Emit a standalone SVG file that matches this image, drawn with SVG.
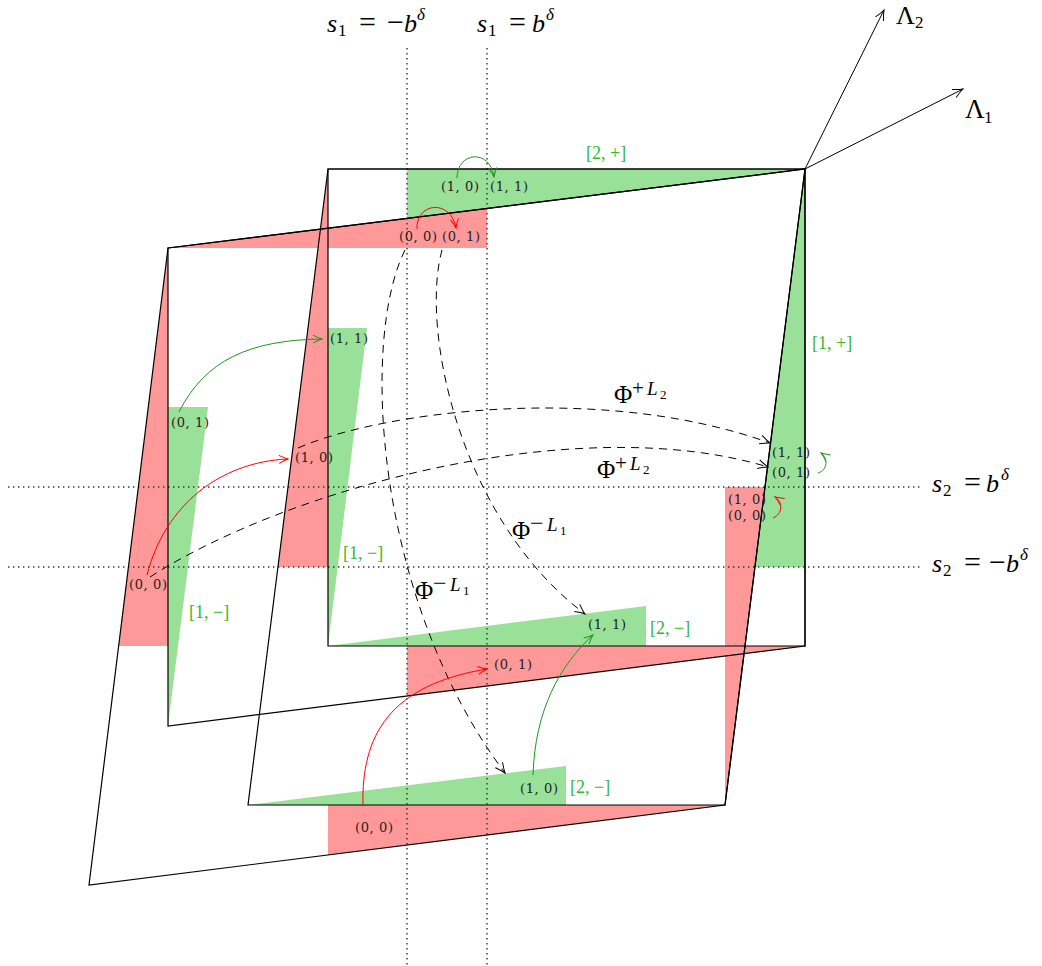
<svg xmlns="http://www.w3.org/2000/svg" width="1042" height="966" viewBox="0 0 1042 966">
<style>
.red{fill:#ff9999;stroke:none}
.grn{fill:#99e099;stroke:none}
.dot{stroke:#333;stroke-width:1.4;stroke-dasharray:1.4 3.6;fill:none}
.out{fill:none;stroke:#000;stroke-width:1.2;stroke-linejoin:miter}
.dash{fill:none;stroke:#000;stroke-width:1;stroke-dasharray:8 6}
.m{font-family:"Liberation Serif","Times New Roman",serif;font-size:26px;fill:#000}
.i{font-style:italic}
.sm{font-family:"DejaVu Serif","Liberation Serif",serif;font-size:13px;letter-spacing:0.6px;fill:#222}
.gl{font-family:"Liberation Serif","Times New Roman",serif;font-size:18px;fill:#33b833}
</style>
<defs>
<marker id="ak" markerUnits="userSpaceOnUse" markerWidth="16" markerHeight="16" viewBox="-12 -8 16 16" refX="0" refY="0" orient="auto" overflow="visible"><path d="M-10,-4.5 Q-4,-1.2 0,0 Q-4,1.2 -10,4.5" fill="none" stroke="#000" stroke-width="1"/></marker>
<marker id="ag" markerUnits="userSpaceOnUse" markerWidth="16" markerHeight="16" viewBox="-12 -8 16 16" refX="0" refY="0" orient="auto" overflow="visible"><path d="M-9,-4 Q-3.5,-1 0,0 Q-3.5,1 -9,4" fill="none" stroke="#1e961e" stroke-width="1"/></marker>
<marker id="ar" markerUnits="userSpaceOnUse" markerWidth="16" markerHeight="16" viewBox="-12 -8 16 16" refX="0" refY="0" orient="auto" overflow="visible"><path d="M-9,-4 Q-3.5,-1 0,0 Q-3.5,1 -9,4" fill="none" stroke="#ff0000" stroke-width="1"/></marker>
</defs>

<g id="fills">
<polygon class="grn" points="407,169 805,169 407,218.4"/>
<polygon class="red" points="168,248 487,208.4 487,248"/>
<polygon class="red" points="168,248 168,646 118.6,646"/>
<polygon class="red" points="328,169 328,567 278,567"/>
<polygon class="grn" points="168,407 208,407 168,726"/>
<polygon class="grn" points="328,328 367,328 328,646"/>
<polygon class="grn" points="805,169 805,567 755,567"/>
<polygon class="red" points="725,487 765,487 725,805"/>
<polygon class="grn" points="328,646 646,606 646,646"/>
<polygon class="red" points="407,646 805,646 407,696"/>
<polygon class="grn" points="248,805 566,766 566,805"/>
<polygon class="red" points="328,805 725,805 328,855"/>
</g>

<g id="guides">
<line class="dot" x1="407" y1="48" x2="407" y2="966"/>
<line class="dot" x1="487" y1="48" x2="487" y2="966"/>
<line class="dot" x1="8" y1="487" x2="922" y2="487"/>
<line class="dot" x1="8" y1="567" x2="922" y2="567"/>
</g>

<g id="shape-A"><polygon class="out" points="328,169 805,169 805,646 328,646"/></g>
<g id="shape-B"><polygon class="out" points="168,248 805,169 805,646 168,726"/></g>
<g id="shape-C"><polygon class="out" points="328,169 805,169 725,805 248,805"/></g>
<g id="shape-D"><polygon class="out" points="168,248 805,169 725,805 89,885"/></g>

<g id="connectors">
<line x1="805" y1="169" x2="884" y2="10" stroke="#000" stroke-width="1" marker-end="url(#ak)"/>
<line x1="805" y1="169" x2="963" y2="89" stroke="#000" stroke-width="1" marker-end="url(#ak)"/>
<path class="dash" d="M298,448 C380,412 600,382 770,443" marker-end="url(#ak)"/>
<path class="dash" d="M150,577 C290,487 580,410 768,467" marker-end="url(#ak)"/>
<path class="dash" d="M405,250 C360,340 375,600 505,773" marker-end="url(#ak)"/>
<path class="dash" d="M442,250 C420,330 460,520 585,614" marker-end="url(#ak)"/>
<path d="M457,178 C457,152 490,148 494,177" fill="none" stroke="#1e961e" stroke-width="1" marker-end="url(#ag)"/>
<path d="M417,229 C416,202 451,199 456,228" fill="none" stroke="#ff0000" stroke-width="1" marker-end="url(#ar)"/>
<path d="M179,412 C205,360 250,340 322,339" fill="none" stroke="#1e961e" stroke-width="1" marker-end="url(#ag)"/>
<path d="M147,575 C165,505 220,462 288,459" fill="none" stroke="#ff0000" stroke-width="1" marker-end="url(#ar)"/>
<path d="M533,775 C535,710 560,665 593,635" fill="none" stroke="#1e961e" stroke-width="1" marker-end="url(#ag)"/>
<path d="M363,806 C361,735 390,685 487,669" fill="none" stroke="#ff0000" stroke-width="1" marker-end="url(#ar)"/>
<path d="M818,473 C828,470 828,458 821,453" fill="none" stroke="#1e961e" stroke-width="1" marker-end="url(#ag)"/>
<path d="M773,518 C783,514 783,502 775,497" fill="none" stroke="#ff0000" stroke-width="1" marker-end="url(#ar)"/>
</g>

<g id="math-labels">
<text class="m"><tspan class="i" x="327" y="31.5">s</tspan><tspan x="338" y="36" font-size="17">1</tspan><tspan x="359" y="31.5" font-size="30">=</tspan><tspan x="387" y="31.5" font-size="30">−</tspan><tspan class="i" x="404" y="31.5">b</tspan><tspan class="i" x="417" y="20" font-size="17">δ</tspan></text>
<text class="m"><tspan class="i" x="477" y="31.5">s</tspan><tspan x="488" y="36" font-size="17">1</tspan><tspan x="509" y="31.5" font-size="30">=</tspan><tspan class="i" x="532" y="31.5">b</tspan><tspan class="i" x="546" y="20" font-size="17">δ</tspan></text>
<text class="m"><tspan class="i" x="932" y="491.5">s</tspan><tspan x="943" y="496" font-size="17">2</tspan><tspan x="964" y="491.5" font-size="30">=</tspan><tspan class="i" x="986" y="491.5">b</tspan><tspan class="i" x="1001" y="480" font-size="17">δ</tspan></text>
<text class="m"><tspan class="i" x="932" y="571.5">s</tspan><tspan x="943" y="576" font-size="17">2</tspan><tspan x="964" y="571.5" font-size="30">=</tspan><tspan x="989" y="571.5" font-size="30">−</tspan><tspan class="i" x="1006" y="571.5">b</tspan><tspan class="i" x="1020" y="560" font-size="17">δ</tspan></text>
<text class="m"><tspan x="896" y="23.5" font-size="26">Λ</tspan><tspan x="915" y="28" font-size="17">2</tspan></text>
<text class="m"><tspan x="965" y="118" font-size="27">Λ</tspan><tspan x="984" y="123" font-size="17">1</tspan></text>
<text class="m"><tspan x="614" y="403" font-size="25">Φ</tspan><tspan x="632" y="395" font-size="21">+</tspan><tspan class="i" x="647" y="395" font-size="19">L</tspan><tspan x="660" y="399" font-size="13">2</tspan></text>
<text class="m"><tspan x="597" y="478" font-size="25">Φ</tspan><tspan x="615" y="470" font-size="21">+</tspan><tspan class="i" x="630" y="470" font-size="19">L</tspan><tspan x="643" y="474" font-size="13">2</tspan></text>
<text class="m"><tspan x="512" y="539" font-size="25">Φ</tspan><tspan x="530" y="531" font-size="24">−</tspan><tspan class="i" x="547" y="531" font-size="19">L</tspan><tspan x="560" y="535" font-size="13">1</tspan></text>
<text class="m"><tspan x="415" y="599" font-size="25">Φ</tspan><tspan x="433" y="591" font-size="24">−</tspan><tspan class="i" x="450" y="591" font-size="19">L</tspan><tspan x="463" y="595" font-size="13">1</tspan></text>
</g>

<g id="region-labels">
<text class="gl" x="586" y="158.5">[2, +]</text>
<text class="gl" x="812" y="348.5">[1, +]</text>
<text class="gl" x="343" y="559">[1, −]</text>
<text class="gl" x="189" y="617.5">[1, −]</text>
<text class="gl" x="650" y="634">[2, −]</text>
<text class="gl" x="570" y="792.5">[2, −]</text>
</g>

<g id="point-labels">
<text class="sm" x="441" y="191">(1, 0)</text>
<text class="sm" x="490" y="191">(1, 1)</text>
<text class="sm" x="399" y="241">(0, 0)</text>
<text class="sm" x="442" y="241">(0, 1)</text>
<text class="sm" x="330" y="343">(1, 1)</text>
<text class="sm" x="171" y="427">(0, 1)</text>
<text class="sm" x="295" y="462">(1, 0)</text>
<text class="sm" x="129" y="589">(0, 0)</text>
<text class="sm" x="772" y="456.5">(1, 1)</text>
<text class="sm" x="772" y="476.5">(0, 1)</text>
<text class="sm" x="728" y="504">(1, 0)</text>
<text class="sm" x="728" y="520">(0, 0)</text>
<text class="sm" x="588" y="629">(1, 1)</text>
<text class="sm" x="494" y="669">(0, 1)</text>
<text class="sm" x="520" y="792.5">(1, 0)</text>
<text class="sm" x="355" y="831.5">(0, 0)</text>
</g>
</svg>
